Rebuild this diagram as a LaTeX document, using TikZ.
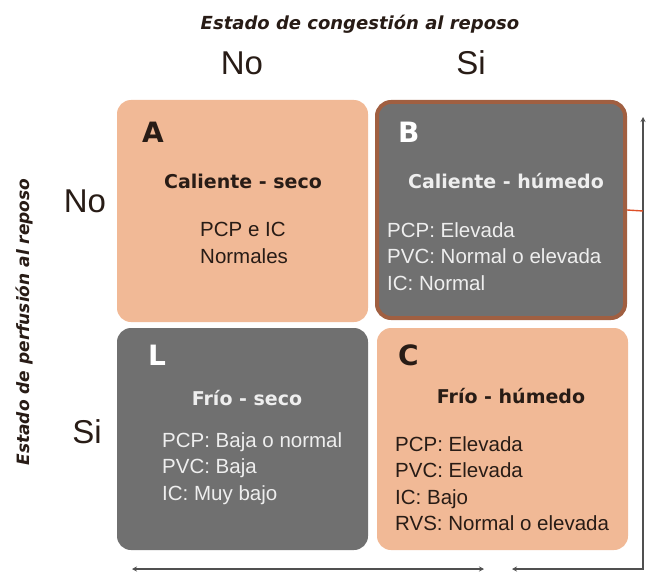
\documentclass[tikz,border=0pt]{standalone}
\usepackage{fontspec}
\setmainfont{Liberation Sans}
\newfontfamily\heavyfont{DejaVu Sans}
\usetikzlibrary{arrows.meta}

\definecolor{peach}{RGB}{241,185,150}
\definecolor{boxgray}{RGB}{112,112,112}
\definecolor{rim}{RGB}{160,95,65}
\definecolor{tiered}{RGB}{222,80,40}
\definecolor{rulegray}{RGB}{80,80,80}
\definecolor{ink}{RGB}{40,28,22}
\definecolor{chalk}{RGB}{238,238,238}

\begin{document}
\begin{tikzpicture}[x=1pt, y=-1pt,
  quad/.style={rectangle, rounded corners=14pt, minimum width=251pt,
               minimum height=222pt, fill=#1, inner sep=0pt},
  quad/.default=peach,
  letter/.style={anchor=base west, inner sep=0pt, text=#1,
                 font=\heavyfont\bfseries\fontsize{28}{28}\selectfont},
  head/.style={anchor=base, inner sep=0pt, text=#1,
               font=\heavyfont\bfseries\fontsize{19}{19}\selectfont},
  body/.style={anchor=north west, inner sep=0pt, align=left, text=#1,
               font=\fontsize{20.5}{26.5}\selectfont},
  yesno/.style={anchor=base, inner sep=0pt, text=ink,
                font=\fontsize{33}{33}\selectfont},
  axtitle/.style={inner sep=0pt, text=ink,
                  font=\heavyfont\bfseries\itshape\fontsize{#1}{#1}\selectfont},
  axtitle/.default=17,
  rule/.style={draw=rulegray, line width=1.2pt,
               {Stealth[length=5pt,width=5pt]}-{Stealth[length=5pt,width=5pt]}},
  tie/.style={draw=tiered, line width=1.4pt}
]
  \useasboundingbox (0,0) rectangle (647,572);

  % Cuadrantes
  \node[quad] (A) at (242.5,211) {};
  \node[quad=boxgray, draw=rim, line width=4pt, minimum width=248pt,
        minimum height=216pt] (B) at (501,210) {};
  \node[quad=boxgray] (L) at (242.5,439) {};
  \node[quad] (C) at (502.5,439) {};

  % A
  \node[letter=ink] (Aletter) at (142,143) {A};
  \node[head=ink] (Ahead) at (243,189) {Caliente - seco};
  \node[body=ink] (Abody) at (200,222) {PCP e IC\\Normales};

  % B
  \node[letter=white] (Bletter) at (398,143) {B};
  \node[head=chalk] (Bhead) at (506,188) {Caliente - húmedo};
  \node[body=chalk] (Bbody) at (387,222) {PCP: Elevada\\PVC: Normal o elevada\\IC: Normal};

  % L
  \node[letter=white] (Lletter) at (148,365) {L};
  \node[head=chalk] (Lhead) at (247,405) {Frío - seco};
  \node[body=chalk] (Lbody) at (162,432) {PCP: Baja o normal\\PVC: Baja\\IC: Muy bajo};

  % C
  \node[letter=ink] (Cletter) at (398,365) {C};
  \node[head=ink] (Chead) at (511,403) {Frío - húmedo};
  \node[body=ink] (Cbody) at (395,436) {PCP: Elevada\\PVC: Elevada\\IC: Bajo\\RVS: Normal o elevada};

  % Ejes
  \node[axtitle=18, anchor=base] (congestion) at (360,30) {Estado de congestión al reposo};
  \node[axtitle, rotate=90] (perfusion) at (24,322) {Estado de perfusión al reposo};
  \node[yesno] (colNo) at (242,75) {No};
  \node[yesno] (colSi) at (471,75) {Si};
  \node[yesno] (rowNo) at (85,212) {No};
  \node[yesno] (rowSi) at (87,443) {Si};

  \coordinate (lowL) at (132,569);
  \coordinate (lowR) at (484,569);
  \coordinate (ret) at (512,569);
  \coordinate (corner) at (643,569);
  \coordinate (top) at (643,117);
  \coordinate (tap) at (643,211);

  \draw[rule] (lowL) -- (lowR);
  \draw[rule] (ret) -- (corner) -- (top);
  \draw[tie] (B.east) -- (tap);
\end{tikzpicture}
\end{document}
